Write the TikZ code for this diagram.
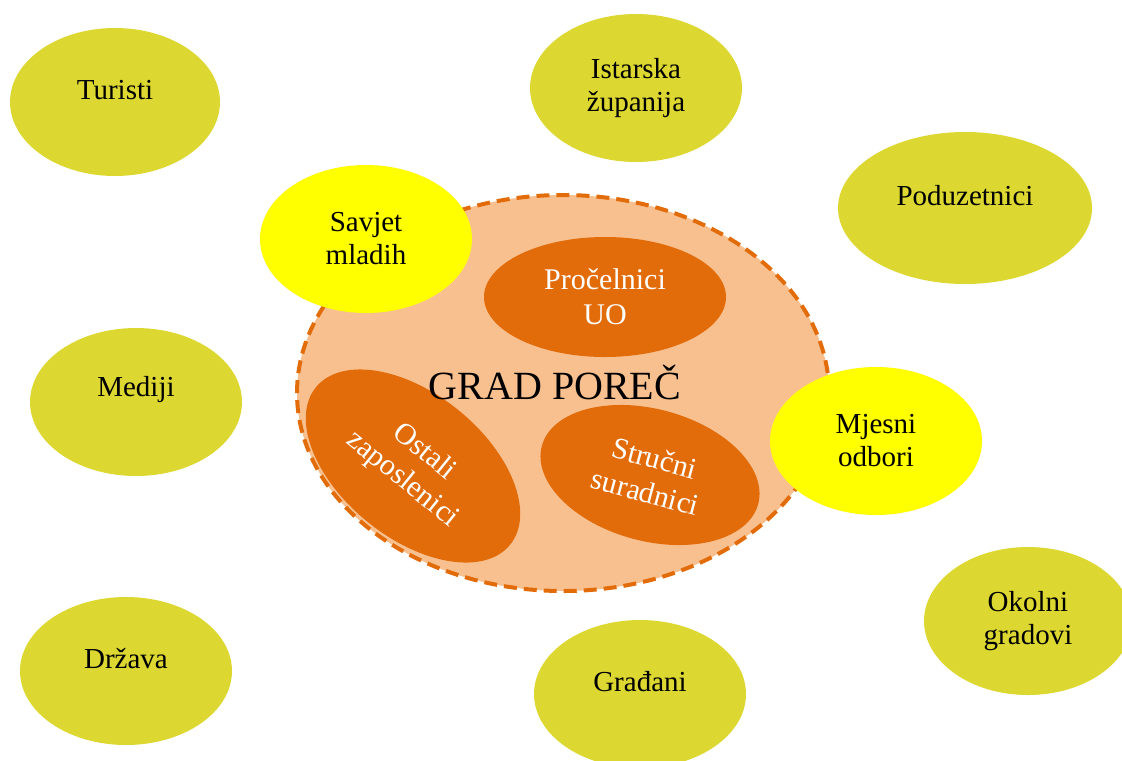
\documentclass[tikz,border=0pt]{standalone}
\usepackage{fontspec}
\setmainfont{Liberation Serif}
\usetikzlibrary{shapes}

\definecolor{partnerfill}{RGB}{221,216,49}
\definecolor{councilfill}{RGB}{255,255,0}
\definecolor{cityfill}{RGB}{249,192,143}
\definecolor{deptfill}{RGB}{227,108,10}

% single line texts sit a little above the middle
\newcommand{\lifted}[1]{\raisebox{6pt}[\height][\depth]{#1}}

\begin{document}
\begin{tikzpicture}[x=0.5pt,y=-0.5pt,
  partner/.style={ellipse,
                  fill=partnerfill,
                  inner sep=0pt,
                  align=center,
                  minimum width=106pt,
                  minimum height=74pt,
                  font=\fontsize{14.5}{16.5}\selectfont
  },
  council/.style={partner, fill=councilfill},
  dept/.style={ellipse,
               fill=deptfill,
               text=white,
               inner sep=0pt,
               align=center,
               font=\fontsize{15}{17.5}\selectfont
  }
]
\useasboundingbox (0,0) rectangle (1122,760);

\node [partner, minimum width=105pt] (turisti) at (115,102) {\lifted{Turisti}};
\node [partner] (istra) at (636,88) {Istarska\\ županija};
\node [partner, minimum width=127pt, minimum height=76pt] (poduzetnici)
   at (965,208) {\lifted{Poduzetnici}};
\node [partner] (mediji) at (136,402) {\lifted{Mediji}};
\node [partner] (drzava) at (126,671) {\lifted{Država}};
\node [partner] (gradjani) at (640,694) {\lifted{Građani}};
\node [partner, minimum width=104pt] (okolni) at (1028,621) {Okolni\\ gradovi};

\node [ellipse, fill=cityfill, draw=deptfill, line width=2pt,
   dash pattern=on 6.5pt off 3.5pt, minimum width=266pt, minimum height=198pt]
   (grad) at (563,393) {};

\node [dept, minimum width=121pt, minimum height=60pt] (procelnici)
   at (605,297) {Pročelnici\\ UO};
\node [dept, rotate=-39, minimum width=125pt, minimum height=72pt] (ostali)
   at (413,466) {Ostali\\ zaposlenici};
\node [dept, rotate=-15, minimum width=112pt, minimum height=66pt] (strucni)
   at (650,475) {Stručni\\ suradnici};

\node [font=\fontsize{20}{24}\selectfont] (gradlabel) at (555,383) {GRAD POREČ};

\node [council] (savjet) at (366,239) {Savjet\\ mladih};
\node [council] (mjesni) at (876,441) {Mjesni\\ odbori};

\end{tikzpicture}
\end{document}
